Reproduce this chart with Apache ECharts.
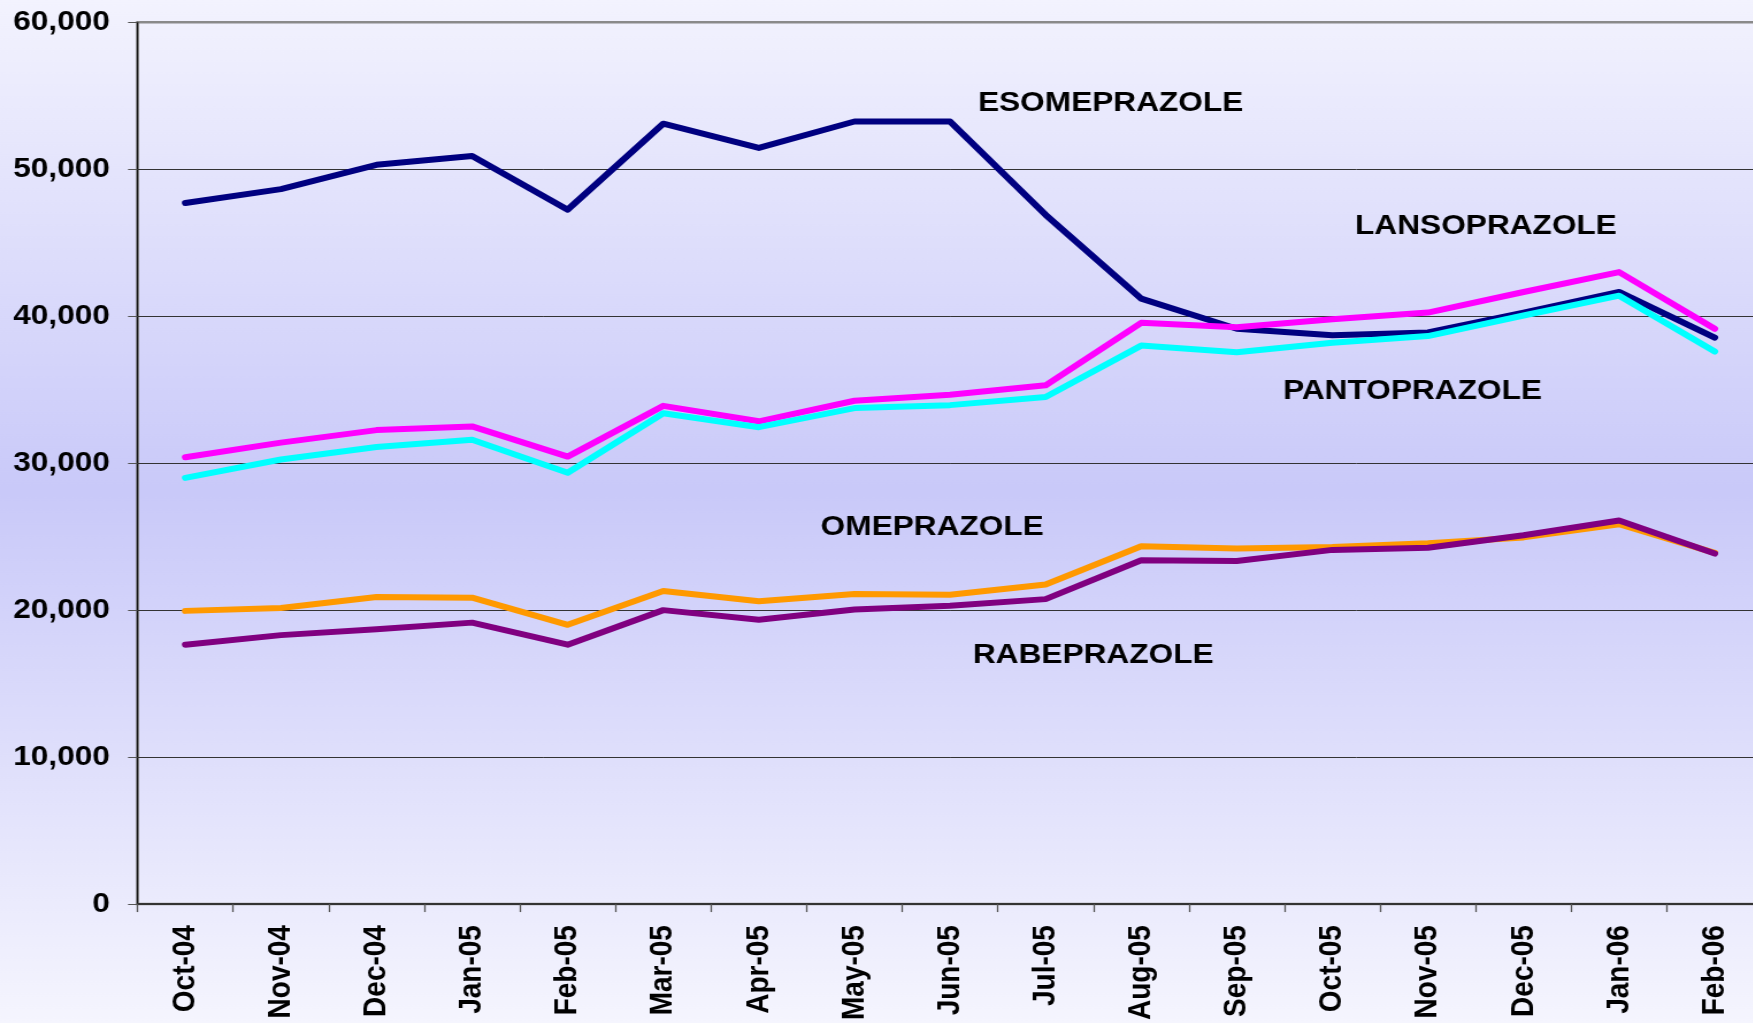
<!DOCTYPE html>
<html>
<head>
<meta charset="utf-8">
<script src="https://cdn.jsdelivr.net/npm/echarts@6/dist/echarts.min.js"></script>
<style>
  html, body { margin: 0; padding: 0; width: 1753px; height: 1023px; overflow: hidden;
    background: linear-gradient(to bottom, #f3f3fe 0%, #c9c9f9 48%, #f5f5fe 100%); }
  #chart { width: 1560px; height: 1023px; transform: scaleX(1.15); transform-origin: 0 0; }
</style>
</head>
<body>
<div id="chart"></div>
<script>
const categories = ['Oct-04','Nov-04','Dec-04','Jan-05','Feb-05','Mar-05','Apr-05','May-05','Jun-05','Jul-05','Aug-05','Sep-05','Oct-05','Nov-05','Dec-05','Jan-06','Feb-06'];
const esomeprazole = [47700, 48650, 50300, 50900, 47250, 53100, 51450, 53250, 53250, 46900, 41200, 39150, 38700, 38900, 40250, 41650, 38550];
const omeprazole   = [19950, 20150, 20900, 20850, 19000, 21300, 20600, 21100, 21050, 21750, 24350, 24200, 24300, 24550, 24950, 25850, 23900];
const lansoprazole = [30400, 31400, 32250, 32500, 30450, 33900, 32850, 34250, 34650, 35300, 39550, 39250, 39800, 40250, 41650, 43000, 39150];
const pantoprazole = [29000, 30250, 31100, 31600, 29350, 33400, 32450, 33750, 33950, 34500, 38000, 37550, 38200, 38650, 40050, 41400, 37600];
const rabeprazole  = [17650, 18300, 18700, 19150, 17650, 20000, 19350, 20050, 20300, 20750, 23400, 23350, 24100, 24250, 25100, 26100, 23850];
const seriesNames = ['ESOMEPRAZOLE','OMEPRAZOLE','LANSOPRAZOLE','PANTOPRAZOLE','RABEPRAZOLE'];

const FONT = '"Liberation Sans", Arial, sans-serif';
const chart = echarts.init(document.getElementById('chart'), null, { renderer: 'canvas' });

function line(name, data, color) {
  return {
    name: name, type: 'line', data: data, symbol: 'none', smooth: false,
    lineStyle: { color: color, width: 6, join: 'round', cap: 'round' },
    itemStyle: { color: color }, animation: false
  };
}
function label(text, x, y) {
  return { type: 'text', x: x, y: y, z: 100,
    style: { text: text, fill: '#000', font: 'bold 27.5px ' + FONT, align: 'left', verticalAlign: 'middle' } };
}

chart.setOption({
  animation: false,
  backgroundColor: new echarts.graphic.LinearGradient(0, 0, 0, 1, [
    { offset: 0, color: '#f3f3fe' }, { offset: 0.48, color: '#c9c9f9' }, { offset: 1, color: '#f5f5fe' }
  ]),
  grid: { left: 119.6, top: 22.3, width: 1413, height: 886.9, show: true,
    borderColor: '#8a8a8a', borderWidth: 2.5, backgroundColor: 'transparent' },
  xAxis: {
    type: 'category', data: categories, boundaryGap: true,
    axisLine: { show: true, lineStyle: { color: '#333', width: 2 } },
    axisTick: { show: true, alignWithLabel: false, length: 8, lineStyle: { color: '#555', width: 1.3 } },
    axisLabel: { rotate: 90, margin: 21, interval: 0, color: '#000', fontFamily: FONT, fontWeight: 'bold', fontSize: 28 },
    splitLine: { show: false }
  },
  yAxis: {
    type: 'value', min: 0, max: 60000, interval: 10000,
    axisLine: { show: true, lineStyle: { color: '#111', width: 1.3 } },
    axisTick: { show: true, length: 8.3, lineStyle: { color: '#555', width: 1 } },
    axisLabel: { margin: 24, color: '#000', fontFamily: FONT, fontWeight: 'bold', fontSize: 27.5,
      formatter: v => v.toLocaleString('en-US') },
    splitLine: { show: true, lineStyle: { color: ['#333','#333','#333','#333','#333','#333','transparent'], width: 1 } }
  },
  series: [
    line(seriesNames[0], esomeprazole, '#000080'),
    line(seriesNames[1], omeprazole, '#FF9900'),
    line(seriesNames[2], lansoprazole, '#FF00FF'),
    line(seriesNames[3], pantoprazole, '#00FFFF'),
    line(seriesNames[4], rabeprazole, '#800080')
  ],
  graphic: [
    label(seriesNames[0], 850.4, 103),
    label(seriesNames[2], 1178.3, 226.5),
    label(seriesNames[3], 1115.7, 391),
    label(seriesNames[1], 713.6, 527),
    label(seriesNames[4], 846.0, 655)
  ]
});
</script>
</body>
</html>
